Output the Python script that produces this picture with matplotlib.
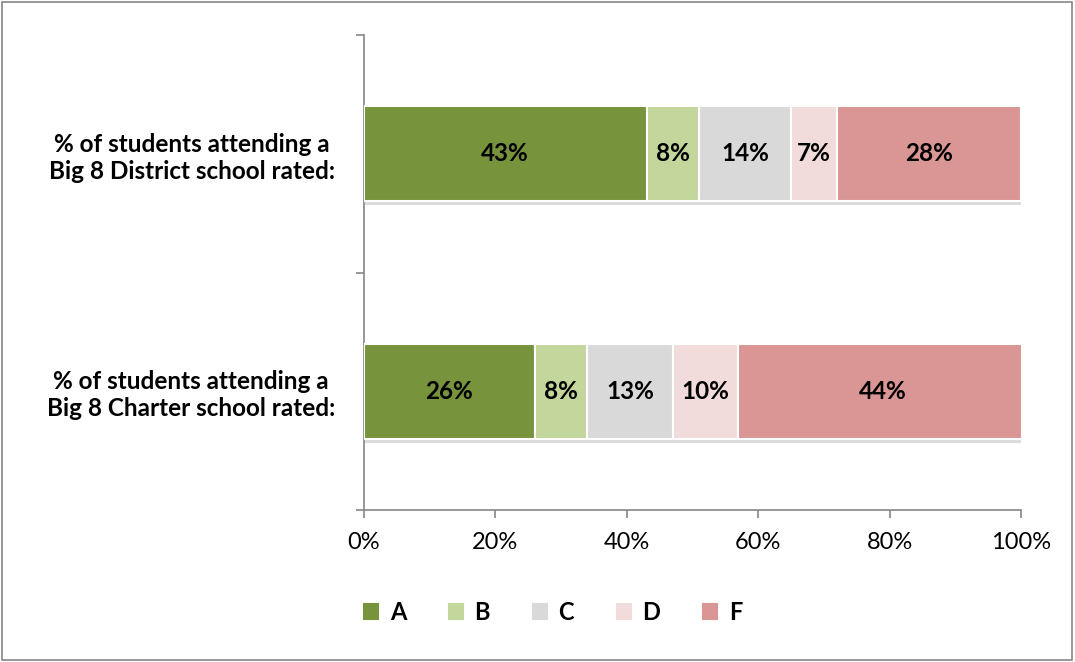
import matplotlib
matplotlib.use("Agg")
import matplotlib.pyplot as plt
import matplotlib.patheffects as pe
from matplotlib.patches import Rectangle
import numpy as np

plt.rcParams['font.family'] = ['Lato', 'DejaVu Sans']

categories = ["% of students attending a\nBig 8 Charter school rated:",
              "% of students attending a\nBig 8 District school rated:"]
grades = ["A", "B", "C", "D", "F"]
values = {
    "A": [26, 43],
    "B": [8, 8],
    "C": [13, 14],
    "D": [10, 7],
    "F": [44, 28],
}
colors = ["#77933C", "#C3D69B", "#D9D9D9", "#F2DCDB", "#D99694"]
xticks = [0, 20, 40, 60, 80, 100]

fig = plt.figure(figsize=(10.75, 6.62), dpi=100)
ax = fig.add_axes([364/1075, 1-510/662, (1021-364)/1075, 475/662])

y = np.arange(len(categories))
left = np.zeros(len(categories))
shadow = [pe.SimplePatchShadow(offset=(0, -3), shadow_rgbFace='#999999', alpha=0.35), pe.Normal()]
for g, c in zip(grades, colors):
    v = np.array(values[g], dtype=float)
    bars = ax.barh(y, v, left=left, height=0.40, color=c, edgecolor='white',
                   linewidth=1.5, label=g, zorder=3)
    for b in bars:
        b.set_path_effects(shadow)
    for yi, li, vi in zip(y, left, v):
        ax.text(li + vi/2, yi, f"{int(vi)}%", ha='center', va='center',
                fontsize=17.5, fontweight='bold', color='black', zorder=4)
    left += v

ax.set_xlim(0, 100)
ax.set_ylim(-0.5, 1.5)
ax.set_xticks(xticks)
ax.set_xticklabels([f"{t}%" for t in xticks], fontsize=17)
ax.set_yticks([-0.5, 0.5, 1.5])
ax.set_yticklabels([])
ax.set_yticks(y, minor=True)
ax.set_yticklabels(categories, minor=True, fontsize=17.5, fontweight='bold',
                   multialignment='center')
ax.tick_params(axis='y', which='minor', length=0, pad=21)
ax.tick_params(axis='y', which='major', length=6, color='#868686', width=1.2)
ax.tick_params(axis='x', length=6, color='#868686', width=1.2, pad=10)
for s in ['top', 'right']:
    ax.spines[s].set_visible(False)
for s in ['left', 'bottom']:
    ax.spines[s].set_color('#868686')
    ax.spines[s].set_linewidth(1.2)

leg = ax.legend(loc='center', ncol=5,
                frameon=False, handlelength=0.6, handleheight=0.6,
                columnspacing=1.8, handletextpad=0.5,
                prop={'size': 17, 'weight': 'bold'})
leg.set_bbox_to_anchor((553/1075, 1-612/662), transform=fig.transFigure)
for h in leg.legend_handles:
    h.set_path_effects([])
    h.set_edgecolor(h.get_facecolor())

fig.patches.append(Rectangle((0.002, 0.003), 0.995, 0.994, transform=fig.transFigure,
                             fill=False, edgecolor='#868686', linewidth=1.2))

fig.savefig("out.png", dpi=100, facecolor='white')
